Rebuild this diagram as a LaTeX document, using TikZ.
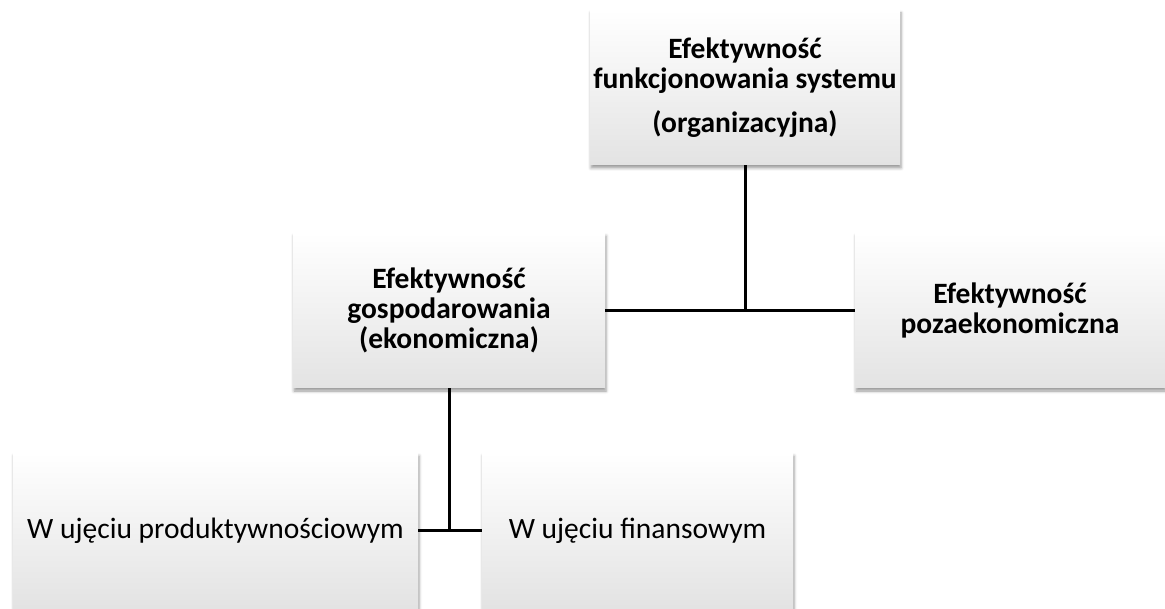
\documentclass[tikz,border=0pt]{standalone}
\usepackage{fontspec}
\setmainfont{Carlito}
\usetikzlibrary{shadows.blur}

\begin{document}
\begin{tikzpicture}[
    x=1pt, y=-1pt,
    box/.style={minimum width=310pt, minimum height=155pt, inner sep=0pt, align=center,
        top color=white, middle color=white, bottom color=black!11,
        blur shadow={shadow xshift=1pt, shadow yshift=-3pt, shadow blur radius=3pt, shadow opacity=40}},
    headtext/.style={font=\fontsize{29.5}{30}\selectfont\bfseries},
    subtext/.style={font=\fontsize{29.5}{30}\selectfont},
    link/.style={line width=3pt, draw=black}
]
    \useasboundingbox (0,0) rectangle (1165,609);

    % --- Levels of boxes ---
    \node[box, headtext] (sys) at (745,87.5) {Efektywność\\funkcjonowania systemu\\[14pt](organizacyjna)};
    \node[box, headtext, minimum width=312pt] (eko) at (449,310.5) {Efektywność\\gospodarowania\\(ekonomiczna)};
    \node[box, headtext] (poza) at (1010,310.5) {Efektywność\\pozaekonomiczna};
    \node[box, subtext, minimum width=405pt] (prod) at (215.5,530.5) {W ujęciu produktywnościowym};
    \node[box, subtext, minimum width=311pt] (fin) at (637.5,530.5) {W ujęciu finansowym};

    % --- Connectors ---
    \coordinate (hub) at (sys.south |- eko.east);
    \draw[link] (sys.south) -- (hub);
    \draw[link] (eko.east) -- (poza.west);
    \coordinate (fork) at (eko.south |- prod.east);
    \draw[link] (eko.south) -- (fork);
    \draw[link] (prod.east) -- (fin.west);

\end{tikzpicture}
\end{document}
